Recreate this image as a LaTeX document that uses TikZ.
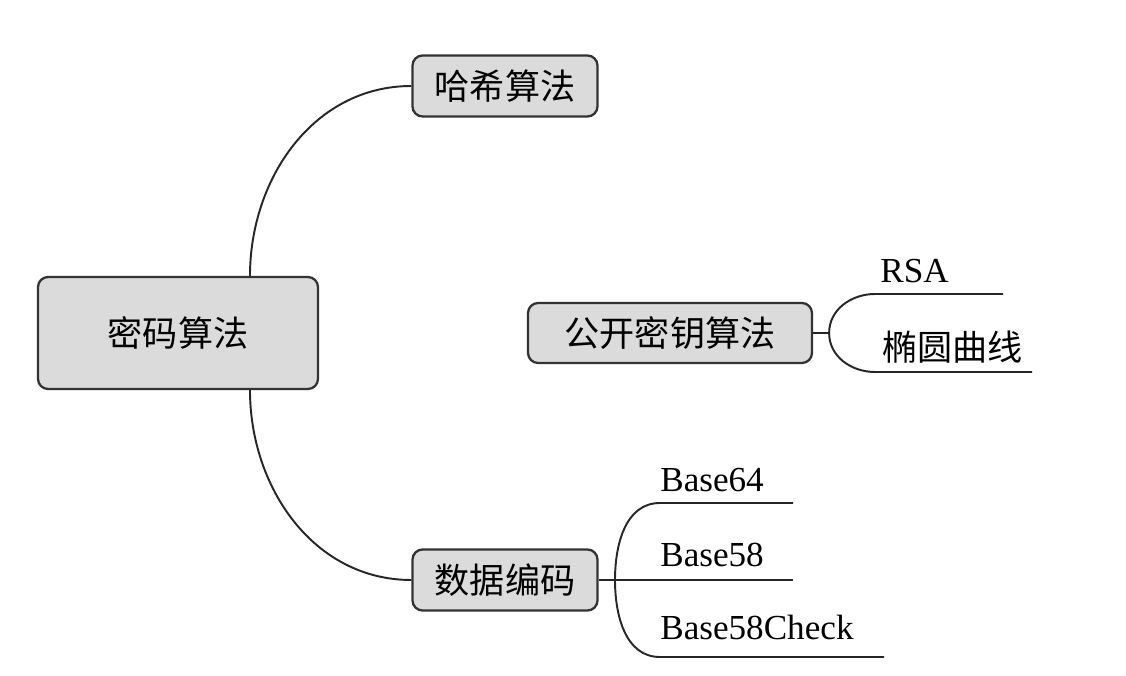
\documentclass[tikz,border=0pt]{standalone}
\usepackage{fontspec}
\setmainfont{Liberation Serif}
\newfontfamily\cjk{Noto Sans CJK SC}

\begin{document}
\begin{tikzpicture}[x=0.02cm,y=0.02cm,
  topic/.style={draw=black!80,line width=1.3pt,fill=black!14,rounded corners=0.2cm,
    inner sep=0pt,font=\cjk\fontsize{20}{24}\selectfont},
  link/.style={line width=1.1pt,draw=black!85},
  leaf/.style={anchor=base west,inner sep=0pt,font=\fontsize{20}{24}\selectfont}]
\useasboundingbox (0,0) rectangle (1126,676);

% topics
\node[topic,minimum width=5.6cm,minimum height=2.24cm] (mima) at (178,343) {密码算法};
\node[topic,minimum width=3.7cm,minimum height=1.22cm] (hash) at (505,590) {哈希算法};
\node[topic,minimum width=5.68cm,minimum height=1.2cm] (gongkai) at (670,343) {公开密钥算法};
\node[topic,minimum width=3.7cm,minimum height=1.22cm] (bianma) at (505,96) {数据编码};

\draw[link] ([xshift=1.44cm]mima.north) to[out=90,in=180] (hash.west);
\draw[link] ([xshift=1.44cm]mima.south) to[out=-90,in=180] (bianma.west);

% public key branches
\coordinate (gk) at ([xshift=0.32cm]gongkai.east);
\coordinate (rsaA) at (875,382);
\coordinate (rsaB) at (1003,382);
\coordinate (eccA) at (875,304);
\coordinate (eccB) at (1032,304);
\draw[link] (gongkai.east) -- (gk) to[out=90,in=180] (rsaA) -- (rsaB);
\draw[link] (gk) to[out=-90,in=180] (eccA) -- (eccB);
\node[leaf] (rsa) at (880,393) {RSA};
\node[leaf,font=\cjk\fontsize{20}{24}\selectfont] (ecc) at (882,315) {椭圆曲线};

% encoding branches
\coordinate (dj) at (615,96);
\coordinate (bsA) at (660,173);
\coordinate (bsB) at (793,173);
\coordinate (bfB) at (793,96);
\coordinate (bcA) at (660,19);
\coordinate (bcB) at (884,19);
\draw[link] (bianma.east) -- (bfB);
\draw[link] (dj) to[out=90,in=180] (bsA) -- (bsB);
\draw[link] (dj) to[out=-90,in=180] (bcA) -- (bcB);
\node[leaf] (b64) at (660,184) {Base64};
\node[leaf] (b58) at (660,109) {Base58};
\node[leaf] (b58c) at (660,36) {Base58Check};
\end{tikzpicture}
\end{document}
